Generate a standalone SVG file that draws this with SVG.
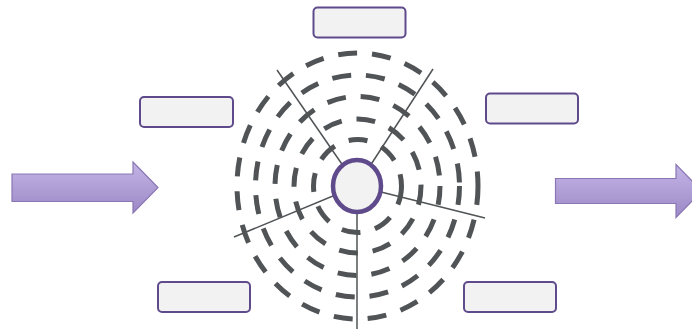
<svg xmlns="http://www.w3.org/2000/svg" width="692" height="329" viewBox="0 0 692 329">
  <defs>
    <linearGradient id="arrowFill" x1="0" y1="0" x2="0" y2="1">
      <stop offset="0" stop-color="#c3b5e6"/>
      <stop offset="1" stop-color="#9c88c6"/>
    </linearGradient>
    <style>
      .ring { fill: none; stroke: #505456; stroke-width: 5; stroke-dasharray: 19 15; }
      .spoke { stroke: #505456; stroke-width: 1.5; fill: none; }
      .box { fill: #f2f2f2; stroke: #5f4b8b; stroke-width: 2; }
      .hub { fill: #f2f2f2; stroke: #5f4b8b; stroke-width: 4.5; }
      .arrow { fill: url(#arrowFill); stroke: #8a76b4; stroke-width: 1.2; }
    </style>
  </defs>
  <rect width="692" height="329" fill="#ffffff"/>

  <g id="rings">
    <ellipse class="ring" cx="357.5" cy="186" rx="120.5" ry="133"/>
    <ellipse class="ring" cx="357.5" cy="186" rx="102" ry="111"/>
    <ellipse class="ring" cx="357.5" cy="186" rx="82.5" ry="89.5"/>
    <ellipse class="ring" cx="357.5" cy="186" rx="63.5" ry="67"/>
    <ellipse class="ring" cx="357.5" cy="186" rx="44" ry="46.5"/>
  </g>

  <g id="connectors">
    <line class="spoke" x1="357" y1="186" x2="277" y2="70"/>
    <line class="spoke" x1="357" y1="186" x2="433" y2="69"/>
    <line class="spoke" x1="357" y1="186" x2="485" y2="218"/>
    <line class="spoke" x1="357" y1="186" x2="234" y2="237"/>
    <line class="spoke" x1="357" y1="186" x2="357" y2="329"/>
  </g>

  <g id="hub">
    <ellipse class="hub" cx="357" cy="186" rx="24" ry="26"/>
  </g>

  <g id="box-top"><rect class="box" x="313.5" y="7.5" width="92" height="30" rx="4"/></g>
  <g id="box-left"><rect class="box" x="140" y="97" width="93" height="30" rx="4"/></g>
  <g id="box-right"><rect class="box" x="486" y="93.5" width="92" height="30" rx="4"/></g>
  <g id="box-bottom-left"><rect class="box" x="158" y="282" width="92" height="30" rx="4"/></g>
  <g id="box-bottom-right"><rect class="box" x="464" y="282" width="92" height="30" rx="4"/></g>

  <g id="arrow-in">
    <path class="arrow" d="M12,174 L133,174 L133,162 L158,187.5 L133,213 L133,201.5 L12,201.5 Z"/>
  </g>
  <g id="arrow-out">
    <path class="arrow" d="M555.5,178.5 L676,178.5 L676,164.5 L702,191 L676,217.5 L676,203.5 L555.5,203.5 Z"/>
  </g>
</svg>
